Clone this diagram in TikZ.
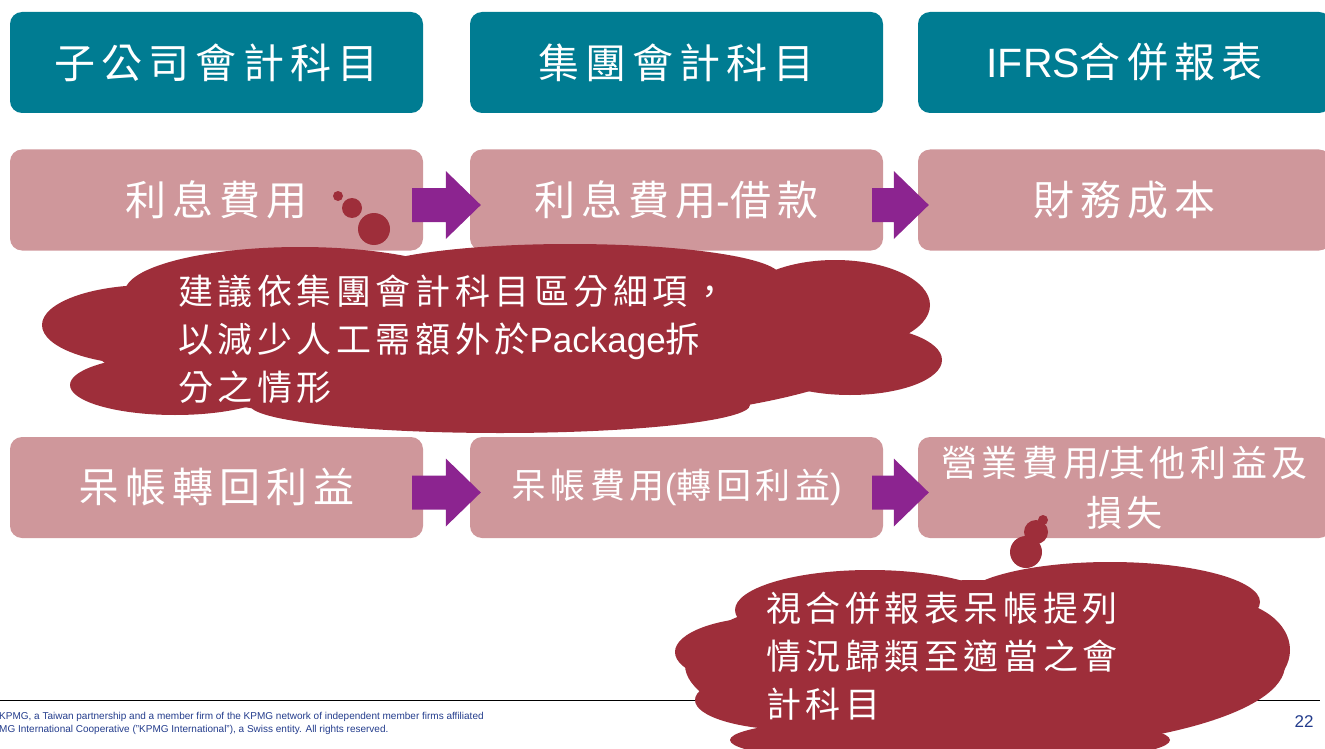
\documentclass[tikz,border=0pt]{standalone}
\usepackage{fontspec}
\setmainfont{Liberation Sans}
\newfontfamily\cjk{Noto Sans CJK TC}[LetterSpace=15]
\newfontfamily\cjks{Noto Sans CJK TC}[LetterSpace=13]
\usetikzlibrary{calc}
\definecolor{hdrc}{RGB}{0,124,146}
\definecolor{pinkc}{RGB}{207,151,155}
\definecolor{arrowc}{RGB}{140,36,144}
\definecolor{cloudc}{RGB}{158,46,58}
\definecolor{footblue}{RGB}{35,60,140}
\newcommand\blockarrow[2]{%
  \fill[arrowc] ($(#1.east)+(-11,-12)$) -- ($(#2.west)+(-24,-12)$) -- ($(#2.west)+(-24,-29)$)
    -- ($(#2.west)+(11,5)$) -- ($(#2.west)+(-24,39)$) -- ($(#2.west)+(-24,22)$)
    -- ($(#1.east)+(-11,22)$) -- cycle;}
\begin{document}
\begin{tikzpicture}[x=1pt,y=-1pt,
  box/.style={rounded corners=12pt, minimum width=413pt, minimum height=101pt,
    text=white, inner sep=0pt, align=center},
  hdrbox/.style={box, fill=hdrc, font=\fontsize{41}{44}\selectfont},
  pbox/.style={box, fill=pinkc, font=\fontsize{41}{44}\selectfont},
  cloudtext/.style={text=white, align=left, anchor=west, inner sep=0pt,
    font=\fontsize{35}{48}\selectfont},
  bubble/.style={circle, fill=cloudc, inner sep=0pt}]
\useasboundingbox (0,0) rectangle (1325,749);
% header
\node[hdrbox] (h1) at (216.5,62.5) {{\cjk 子公司會計科目}};
\node[hdrbox] (h2) at (676.5,62.5) {{\cjk 集團會計科目}};
\node[hdrbox] (h3) at (1124.5,62.5) {IFRS{\cjk 合併報表}};
% row 2
\node[pbox] (a1) at (216.5,200) {{\cjk 利息費用}};
\node[pbox] (a2) at (676.5,200) {{\cjk 利息費用}-{\cjk 借款}};
\node[pbox] (a3) at (1124.5,200) {{\cjk 財務成本}};
% row 3
\node[pbox] (b1) at (216.5,487.5) {{\cjk 呆帳轉回利益}};
\node[pbox, font=\fontsize{35}{44}\selectfont] (b2) at (676.5,487.5) {{\cjks 呆帳費用}({\cjks 轉回利益})};
\node[pbox, font=\fontsize{36}{50}\selectfont] (b3) at (1124.5,487.5) {{\cjks 營業費用}/{\cjks 其他利益及}\\{\cjks 損失}};
% arrows
\blockarrow{a1}{a2}
\blockarrow{a2}{a3}
\blockarrow{b1}{b2}
\blockarrow{b2}{b3}
% footer line
\draw[line width=1pt] (0,700) -- (1320,700);
\node[anchor=west, inner sep=0pt, text=footblue, align=left,
  font=\fontsize{10}{13}\selectfont] (foot) at (-1,723.5)
  {KPMG, a Taiwan partnership and a member firm of the KPMG network of independent member firms affiliated\\
   MG International Cooperative ("KPMG International"), a Swiss entity. All rights reserved.};
\node[text=footblue, font=\fontsize{17}{19}\selectfont, inner sep=0pt] (pg) at (1304,722) {22};
% cloud 1
\node[bubble, minimum size=10pt] (s1) at (338,196) {};
\node[bubble, minimum size=20pt] (s2) at (352,208) {};
\node[bubble, minimum size=32pt] (s3) at (374,229) {};
\fill[cloudc] (490,340) ellipse [x radius=400, y radius=85];
\fill[cloudc] (150,325) ellipse [x radius=108, y radius=40];
\fill[cloudc] (175,385) ellipse [x radius=105, y radius=30];
\fill[cloudc] (300,292) ellipse [x radius=175, y radius=45];
\fill[cloudc] (570,276) ellipse [x radius=210, y radius=32];
\fill[cloudc] (835,305) ellipse [x radius=95, y radius=45];
\fill[cloudc] (850,360) ellipse [x radius=92, y radius=35];
\fill[cloudc] (500,405) ellipse [x radius=250, y radius=28];
\node[cloudtext] (c1) at (178,339)
  {{\cjks 建議依集團會計科目區分細項，}\\{\cjks 以減少人工需額外於}Package{\cjks 拆}\\{\cjks 分之情形}};
% cloud 2
\node[bubble, minimum size=10pt] (t1) at (1043,520) {};
\node[bubble, minimum size=24pt] (t2) at (1036,532) {};
\node[bubble, minimum size=32pt] (t3) at (1026,552) {};
\fill[cloudc] (985,665) ellipse [x radius=300, y radius=85];
\fill[cloudc] (770,652) ellipse [x radius=95, y radius=35];
\fill[cloudc] (795,700) ellipse [x radius=100, y radius=30];
\fill[cloudc] (870,610) ellipse [x radius=135, y radius=40];
\fill[cloudc] (1110,602) ellipse [x radius=150, y radius=40];
\fill[cloudc] (1220,650) ellipse [x radius=70, y radius=50];
\fill[cloudc] (950,740) ellipse [x radius=220, y radius=25];
\node[cloudtext] (c2) at (766,656)
  {{\cjks 視合併報表呆帳提列}\\{\cjks 情況歸類至適當之會}\\{\cjks 計科目}};
\end{tikzpicture}
\end{document}
